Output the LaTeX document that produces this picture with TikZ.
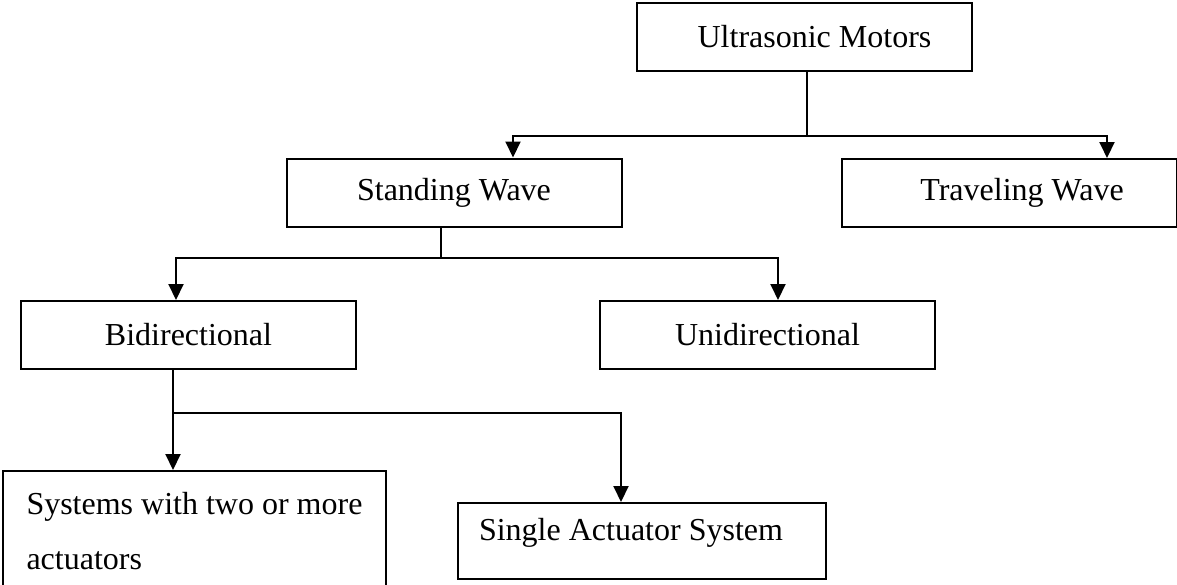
\documentclass[tikz,border=0pt]{standalone}
\usepackage{fontspec}
\setmainfont{Liberation Serif}
\usetikzlibrary{arrows.meta}
\tikzset{>={Triangle[width=7.5pt,length=8pt]}}

\begin{document}
\begin{tikzpicture}[x=0.5pt, y=-0.5pt, line width=1pt,
    box/.style={draw, rectangle, inner sep=0pt, minimum width=167.5pt,
      minimum height=34pt, font=\fontsize{16}{19}\selectfont}]

  \useasboundingbox (0,0) rectangle (1177,584);

  %% boxes
  \node[box] (um) at (804.5,37) {\hspace{10pt}Ultrasonic Motors};
  \node[box] (sw) at (454,192.5) {Standing Wave};
  \node[box] (tw) at (1009,193) {\hspace{13pt}Traveling Wave};
  \node[box] (bi) at (188.5,335) {Bidirectional};
  \node[box] (uni) at (767.5,335) {Unidirectional};
  \node[box, anchor=north west, minimum width=191.5pt, minimum height=60pt,
    align=left, inner xsep=10pt, font=\fontsize{16}{27.5}\selectfont]
    (multi) at (2,470) {Systems with two or more\\actuators};
  \node[box, anchor=north west, minimum width=184pt, minimum height=38pt,
    inner ysep=2pt, text height=16.5pt, text depth=17.5pt]
    (single) at (457,502) {Single Actuator System\kern11pt};

  %% columns of the connectors
  \coordinate (c1) at (513,0);
  \coordinate (c2) at (1107,0);
  \coordinate (c3) at (176,0);
  \coordinate (c4) at (778,0);
  \coordinate (c5) at (173,0);
  \coordinate (c6) at (621,0);

  %% junctions
  \coordinate (j1) at (807,136);
  \coordinate (j2) at (441,258);
  \coordinate (j3) at (173,413);

  \draw (um.south -| j1) -- (j1); % um -> sw, tw
  \draw[->] (j1) -| (sw.north -| c1);
  \draw[->] (j1) -| (tw.north -| c2);

  \draw (sw.south -| j2) -- (j2); % sw -> bi, uni
  \draw[->] (j2) -| (bi.north -| c3);
  \draw[->] (j2) -| (uni.north -| c4);

  \draw[->] (bi.south -| c5) -- (multi.north -| c5); % bi -> multi, single
  \draw[->] (j3) -| (single.north -| c6);

\end{tikzpicture}
\end{document}
